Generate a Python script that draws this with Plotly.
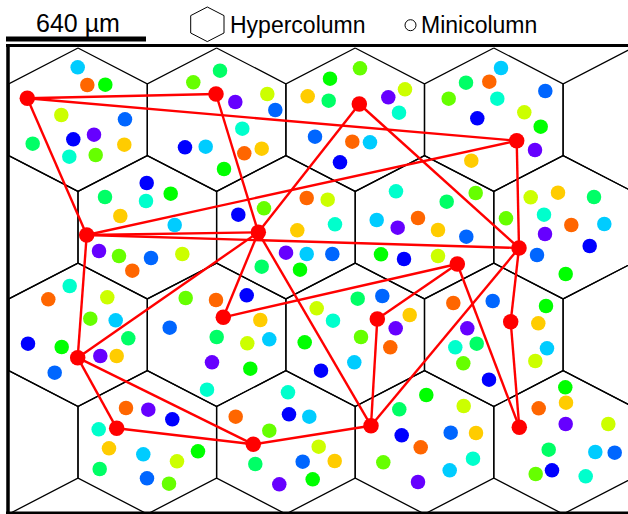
import plotly.graph_objects as go

# ---------------- data ----------------
# hypercolumn grid (pointy-top hexagons)
hex_width = 138.6
hex_radius = 71.7
row_y = [119.7, 227.25, 334.8, 442.35]
row_x_start = [-60.6, 8.7, -60.6, 8.7]
hex_per_row = 6

palette = {
    "or": "#ff6600", "go": "#ffcc00", "yg": "#ccff00", "li": "#66ff00",
    "gr": "#00ff00", "sg": "#00ff66", "aq": "#00ffcc", "cy": "#00ccff",
    "db": "#0066ff", "bl": "#0000ff", "pu": "#6600ff",
}

mini_x = [
    77.7, 87.3, 105.3, 61.3, 125, 32.7, 73.3, 94, 124.3, 69.3, 95.7,
    220, 193.3, 235.3, 267.3, 275.3, 242.3, 185, 205.7, 244.3, 261.7, 224,
    360, 330, 307.7, 328.7, 388.3, 405, 399, 315, 352.3, 370, 340,
    501, 466, 489.3, 448.7, 497.3, 545.3, 477.3, 524.3, 540.7, 535, 471.3,
    146.7, 105, 146, 170.7, 120.3, 174.7, 99, 119, 151, 182.3, 132.3,
    306.7, 327.7, 238.3, 264, 297.3, 335, 286, 306.7, 332.3, 261.7, 300,
    396, 376.7, 397.7, 418, 381, 404, 475.7, 446.7, 438, 466.3, 438,
    530.7, 558, 594, 506, 544, 571.3, 604.3, 545, 589.7, 537, 565.7,
    69.7, 48.3, 107.3, 90.3, 115.7, 128.3, 28, 61.7, 100.3, 116.7, 54.7,
    185.7, 216, 246.7, 169.7, 260.3, 216.7, 247.3, 269.3, 212, 250.3, 207,
    357.7, 382.3, 316.7, 333, 409.7, 395.7, 304.7, 361, 390.3, 354.3, 321,
    453.3, 492.7, 546, 538.3, 467.3, 476.7, 455.3, 547, 463.3, 535.3, 489,
    126, 148.3, 172.3, 98.7, 109, 143.3, 198, 177, 99.7, 147, 169,
    288, 235.7, 289, 309.3, 269.3, 318.7, 255.3, 302.7, 334.7, 312.7, 279.3,
    426.3, 399.3, 463.7, 401.7, 450.7, 476, 420.7, 473, 383.3, 449.7, 418,
    565.3, 566, 538.7, 565.7, 608.3, 548.7, 595.3, 614.7, 535.7, 552, 585.7,
]
mini_y = [
    67.3, 85, 84.7, 115, 119.3, 143.7, 139.3, 134.7, 144.7, 156.7, 155,
    70.7, 82.3, 102, 94, 110, 128.7, 147.3, 146.7, 153.3, 148.7, 169,
    68.3, 78.7, 96.3, 100.7, 97.3, 89.3, 112.7, 136.7, 141.7, 142.3, 162.3,
    68, 82.7, 81.7, 98.7, 98.7, 91, 118.3, 112.3, 126.7, 150, 160.7,
    183, 197, 201, 193.7, 216, 225, 251, 256, 258, 254, 270.7,
    198, 199.7, 214.7, 208.3, 230.3, 224.3, 252.7, 254, 254, 266.7, 269.7,
    191.3, 220, 227.7, 218, 254.3, 259, 193, 201.7, 230, 236.7, 256,
    197.3, 192.7, 197, 218.3, 214.7, 225, 224, 234, 246, 255, 274,
    286, 299.3, 297.3, 318.7, 320.3, 338.3, 343.7, 347, 356, 356, 372.7,
    298, 300, 295.3, 327.7, 320, 337, 343.3, 339.3, 362.3, 368.7, 389.7,
    298.7, 296, 308.3, 320.7, 315, 328.3, 342.3, 337, 347.3, 362.3, 370.7,
    303, 301, 306, 323.3, 328.3, 343.7, 347.3, 348.3, 363.3, 361, 379.7,
    408, 409.7, 419.3, 429.3, 448.3, 454.3, 451.3, 461.3, 469, 478.3, 483.7,
    392.3, 416.7, 414.3, 416.7, 430.7, 446.7, 464, 461.7, 461, 479.3, 484.3,
    395, 409.3, 406, 435.3, 432.7, 433, 447.3, 458.7, 462.3, 470.3, 482,
    387.3, 402.7, 408.3, 424, 424, 449.7, 452, 452.7, 474, 470.3, 476.3,
]
mini_c = [
    "cy", "or", "gr", "yg", "db", "sg", "bl", "pu", "go", "aq", "li",
    "sg", "li", "pu", "yg", "db", "aq", "bl", "cy", "or", "go", "gr",
    "li", "gr", "go", "sg", "pu", "yg", "aq", "db", "or", "cy", "bl",
    "cy", "sg", "or", "li", "aq", "db", "bl", "yg", "gr", "pu", "go",
    "bl", "sg", "aq", "gr", "go", "cy", "pu", "li", "db", "yg", "or",
    "or", "yg", "bl", "li", "go", "aq", "pu", "cy", "db", "sg", "gr",
    "aq", "cy", "pu", "or", "gr", "bl", "li", "sg", "go", "db", "yg",
    "yg", "go", "sg", "li", "aq", "or", "cy", "pu", "bl", "db", "gr",
    "aq", "or", "yg", "li", "cy", "sg", "bl", "gr", "pu", "go", "db",
    "li", "or", "bl", "db", "go", "sg", "yg", "cy", "pu", "gr", "aq",
    "sg", "db", "yg", "aq", "go", "pu", "gr", "li", "or", "cy", "bl",
    "or", "db", "gr", "go", "pu", "sg", "aq", "cy", "li", "yg", "bl",
    "or", "pu", "bl", "aq", "go", "cy", "gr", "yg", "sg", "db", "li",
    "aq", "or", "bl", "cy", "li", "yg", "sg", "db", "go", "gr", "pu",
    "gr", "sg", "yg", "bl", "db", "go", "or", "aq", "li", "cy", "pu",
    "gr", "go", "or", "pu", "yg", "sg", "cy", "db", "li", "bl", "aq",
]

node_names = ["A", "B", "C", "D", "E", "F", "G", "H",
              "I", "J", "K", "L", "M", "N", "O", "P"]
node_x = [27.3, 216, 359.3, 516.7, 86.7, 258.3, 519, 457.3,
          223.3, 377.3, 510.7, 77.7, 116.7, 253.3, 371, 519.3]
node_y = [98.3, 94, 104, 140.7, 235, 232.3, 248, 264,
          317.3, 319, 321.7, 357.7, 428.3, 444.3, 425.7, 427.3]
edges = [("A", "B"), ("A", "D"), ("A", "E"), ("B", "F"), ("C", "F"),
         ("C", "G"), ("D", "E"), ("D", "G"), ("E", "F"), ("E", "G"),
         ("E", "L"), ("F", "L"), ("F", "I"), ("F", "O"), ("H", "I"),
         ("H", "J"), ("H", "P"), ("G", "O"), ("G", "K"), ("K", "P"),
         ("L", "M"), ("L", "N"), ("M", "N"), ("N", "O"), ("O", "J")]

scale_label = "640 µm"
legend_labels = ["Hypercolumn", "Minicolumn"]

# ---------------- figure ----------------
fig = go.Figure()

# hexagon grid lines
hx, hy = [], []
for r, cy in enumerate(row_y):
    for k in range(hex_per_row):
        cx = row_x_start[r] + k * hex_width
        w = hex_width / 2
        pts = [(cx, cy - hex_radius), (cx + w, cy - hex_radius / 2),
               (cx + w, cy + hex_radius / 2), (cx, cy + hex_radius),
               (cx - w, cy + hex_radius / 2), (cx - w, cy - hex_radius / 2),
               (cx, cy - hex_radius)]
        for p in pts:
            hx.append(p[0]); hy.append(p[1])
        hx.append(None); hy.append(None)
fig.add_trace(go.Scatter(x=hx, y=hy, mode="lines",
                         line=dict(color="black", width=1.3),
                         hoverinfo="skip", showlegend=False))

# network edges
pos = {n: (x, y) for n, x, y in zip(node_names, node_x, node_y)}
ex, ey = [], []
for a, b in edges:
    ex += [pos[a][0], pos[b][0], None]
    ey += [pos[a][1], pos[b][1], None]
fig.add_trace(go.Scatter(x=ex, y=ey, mode="lines",
                         line=dict(color="#ff0000", width=2.4),
                         hoverinfo="skip", showlegend=False))

# minicolumns
fig.add_trace(go.Scatter(x=mini_x, y=mini_y, mode="markers",
                         marker=dict(size=14.5, color=[palette[c] for c in mini_c],
                                     line=dict(width=0)),
                         showlegend=False))
# active minicolumns
fig.add_trace(go.Scatter(x=node_x, y=node_y, mode="markers",
                         marker=dict(size=15.5, color="#ff0000", line=dict(width=0)),
                         showlegend=False))

shapes = [
    # white mask left of frame
    dict(type="rect", xref="x", yref="y", x0=-5, x1=7, y0=40, y1=520,
         fillcolor="white", line=dict(width=0), layer="above"),
    # frame
    dict(type="line", xref="x", yref="y", x0=8, x1=8, y0=44, y1=514,
         line=dict(color="black", width=3.5), layer="above"),
    dict(type="line", xref="x", yref="y", x0=6, x1=630, y0=45.5, y1=45.5,
         line=dict(color="black", width=3), layer="above"),
    dict(type="line", xref="x", yref="y", x0=6, x1=630, y0=513, y1=513,
         line=dict(color="black", width=3), layer="above"),
    # scale bar
    dict(type="line", xref="x", yref="y", x0=6, x1=146, y0=39, y1=39,
         line=dict(color="black", width=5), layer="above"),
    # legend hexagon
    dict(type="path", xref="x", yref="y",
         path="M 207.3 7 L 224 15.6 L 224 33 L 207.3 41.6 L 190.7 33 L 190.7 15.6 Z",
         line=dict(color="black", width=1), fillcolor="rgba(0,0,0,0)", layer="above"),
    # legend circle
    dict(type="circle", xref="x", yref="y", x0=405, x1=416, y0=19.7, y1=30.7,
         line=dict(color="black", width=1), fillcolor="white", layer="above"),
]

font = "Liberation Sans, Arial, sans-serif"
annotations = [
    dict(x=78, y=23, xref="x", yref="y", text=scale_label, showarrow=False,
         font=dict(family=font, size=25, color="black"), xanchor="center", yanchor="middle"),
    dict(x=228, y=25, xref="x", yref="y", text=legend_labels[0], showarrow=False,
         font=dict(family=font, size=23, color="black"), xanchor="left", yanchor="middle"),
    dict(x=419, y=25, xref="x", yref="y", text=legend_labels[1], showarrow=False,
         font=dict(family=font, size=23, color="black"), xanchor="left", yanchor="middle"),
]

fig.update_layout(
    width=628, height=514, margin=dict(l=0, r=0, t=0, b=0),
    paper_bgcolor="white", plot_bgcolor="white",
    xaxis=dict(range=[0, 628], visible=False, fixedrange=True),
    yaxis=dict(range=[514, 0], visible=False, fixedrange=True),
    shapes=shapes, annotations=annotations, showlegend=False,
)

fig.write_html(
    "out.html",
    config={"displayModeBar": False},
    post_script="document.body.style.margin='0';document.body.style.overflow='hidden';",
)
